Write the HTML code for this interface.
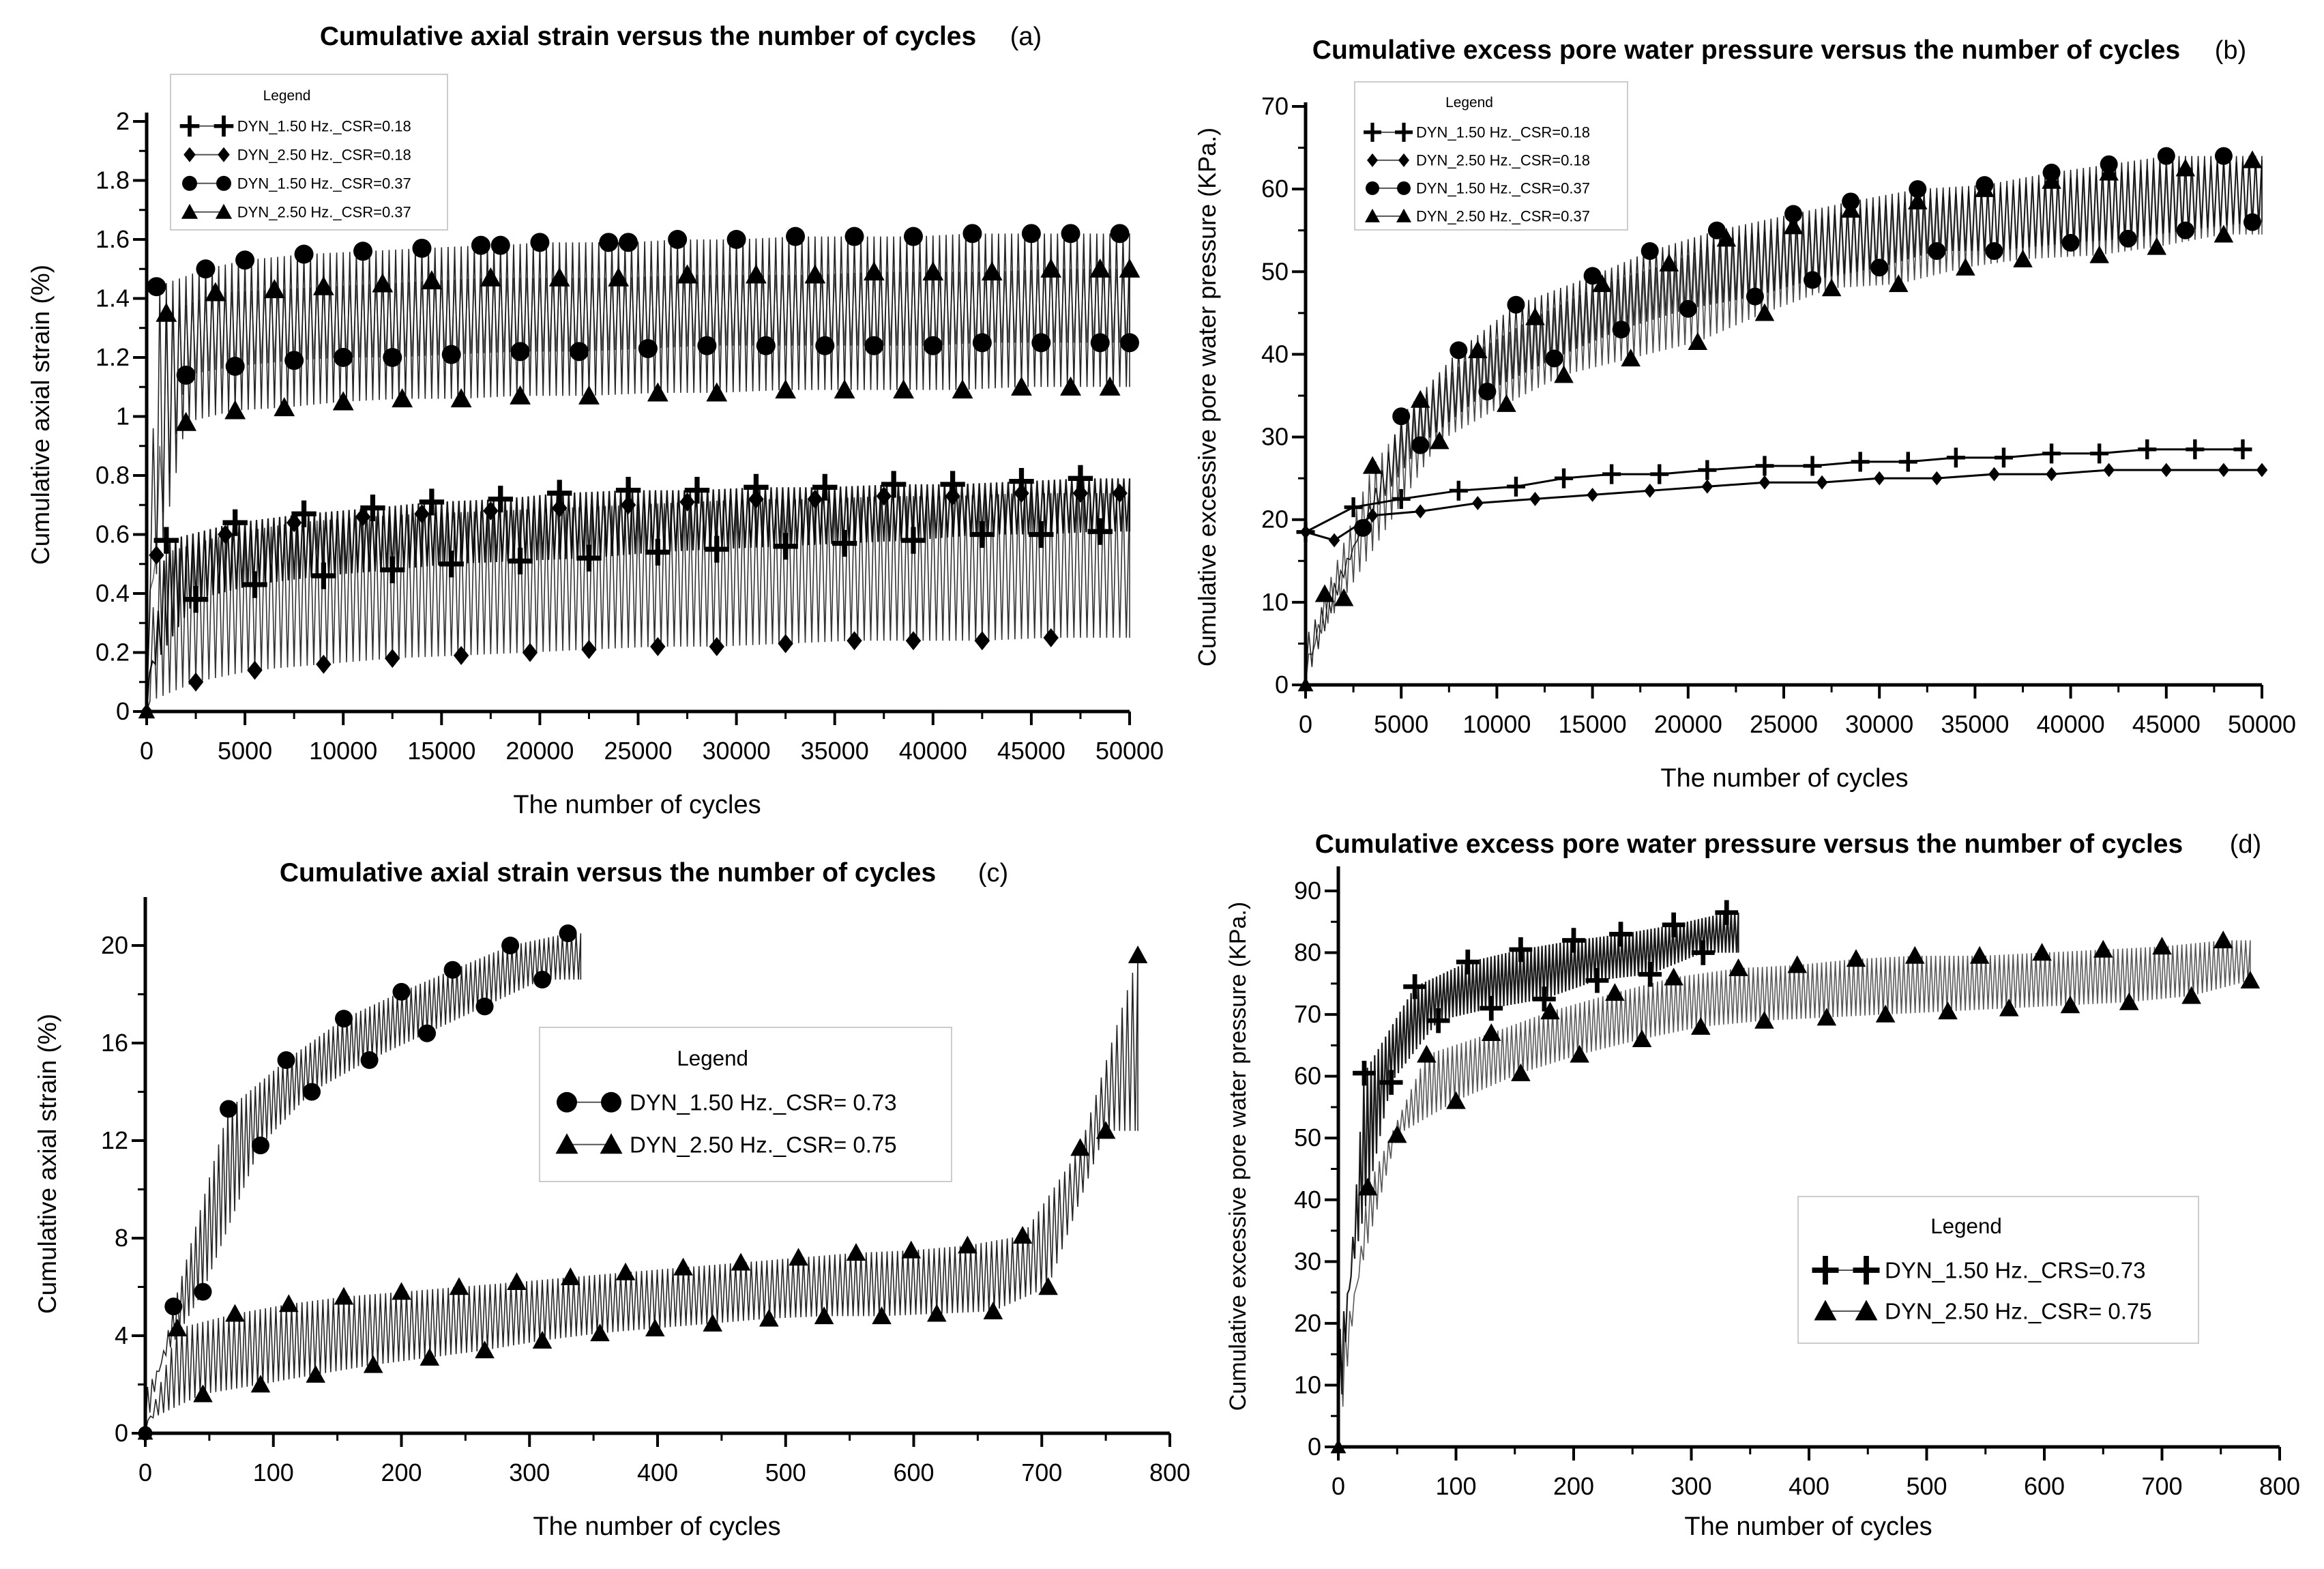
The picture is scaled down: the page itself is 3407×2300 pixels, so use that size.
<!DOCTYPE html>
<html><head><meta charset="utf-8"><style>
html,body{margin:0;padding:0;background:#fff;}
svg{display:block;font-family:"Liberation Sans",sans-serif;}
</style></head><body>
<svg id="fig" width="3407" height="2300" viewBox="0 0 3407 2300" xmlns="http://www.w3.org/2000/svg"></svg>
<script>
// ===== Panel (a) data: cumulative axial strain (%) vs cycles =====
const aPlusUpX=[1000,4500,8000,11500,14500,18000,21000,24500,28000,31000,34500,38000,41000,44500,47500];
const aPlusUpY=[0.58,0.64,0.67,0.69,0.71,0.72,0.74,0.75,0.75,0.76,0.76,0.77,0.77,0.78,0.79];
const aPlusLoX=[2500,5500,9000,12500,15500,19000,22500,26000,29000,32500,35500,39000,42500,45500,48500];
const aPlusLoY=[0.38,0.43,0.46,0.48,0.50,0.51,0.52,0.54,0.55,0.56,0.57,0.58,0.60,0.60,0.61];
const aDiaUpX=[500,4000,7500,11000,14000,17500,21000,24500,27500,31000,34000,37500,41000,44500,47500,49500];
const aDiaUpY=[0.53,0.60,0.64,0.66,0.67,0.68,0.69,0.70,0.71,0.72,0.72,0.73,0.73,0.74,0.74,0.74];
const aDiaLoX=[2500,5500,9000,12500,16000,19500,22500,26000,29000,32500,36000,39000,42500,46000];
const aDiaLoY=[0.10,0.14,0.16,0.18,0.19,0.20,0.21,0.22,0.22,0.23,0.24,0.24,0.24,0.25];
const aCirUpX=[500,3000,5000,8000,11000,14000,17000,18000,20000,23500,24500,27000,30000,33000,36000,39000,42000,45000,47000,49500];
const aCirUpY=[1.44,1.50,1.53,1.55,1.56,1.57,1.58,1.58,1.59,1.59,1.59,1.60,1.60,1.61,1.61,1.61,1.62,1.62,1.62,1.62];
const aCirLoX=[2000,4500,7500,10000,12500,15500,19000,22000,25500,28500,31500,34500,37000,40000,42500,45500,48500,50000];
const aCirLoY=[1.14,1.17,1.19,1.20,1.20,1.21,1.22,1.22,1.23,1.24,1.24,1.24,1.24,1.24,1.25,1.25,1.25,1.25];
const aTriUpX=[1000,3500,6500,9000,12000,14500,17500,21000,24000,27500,31000,34000,37000,40000,43000,46000,48500,50000];
const aTriUpY=[1.35,1.42,1.43,1.44,1.45,1.46,1.47,1.47,1.47,1.48,1.48,1.48,1.49,1.49,1.49,1.50,1.50,1.50];
const aTriLoX=[2000,4500,7000,10000,13000,16000,19000,22500,26000,29000,32500,35500,38500,41500,44500,47000,49000];
const aTriLoY=[0.98,1.02,1.03,1.05,1.06,1.06,1.07,1.07,1.08,1.08,1.09,1.09,1.09,1.09,1.10,1.10,1.10];
const aXTicks=[0,5000,10000,15000,20000,25000,30000,35000,40000,45000,50000];
const aYTicks=[0,0.2,0.4,0.6,0.8,1,1.2,1.4,1.6,1.8,2];
// ===== Panel (b) data: excess pore water pressure (kPa) =====
const bCirUpX=[5000,8000,11000,15000,18000,21500,25500,28500,32000,35500,39000,42000,45000,48000];
const bCirUpY=[32.5,40.5,46,49.5,52.5,55,57,58.5,60,60.5,62,63,64,64];
const bCirLoX=[3000,6000,9500,13000,16500,20000,23500,26500,30000,33000,36000,40000,43000,46000,49500];
const bCirLoY=[19,29,35.5,39.5,43,45.5,47,49,50.5,52.5,52.5,53.5,54,55,56];
const bTriUpX=[1000,3500,6000,9000,12000,15500,19000,22000,25500,28500,32000,35500,39000,42000,46000,49500];
const bTriUpY=[11,26.5,34.5,40.5,44.5,48.5,51,54,55.5,57.5,58.5,60,61,62,62.5,63.5];
const bTriLoX=[2000,7000,10500,13500,17000,20500,24000,27500,31000,34500,37500,41500,44500,48000];
const bTriLoY=[10.5,29.5,34,37.5,39.5,41.5,45,48,48.5,50.5,51.5,52,53,54.5];
const bPlusX=[0,2500,5000,8000,11000,13500,16000,18500,21000,24000,26500,29000,31500,34000,36500,39000,41500,44000,46500,49000];
const bPlusY=[18.5,21.5,22.5,23.5,24,25,25.5,25.5,26,26.5,26.5,27,27,27.5,27.5,28,28,28.5,28.5,28.5];
const bDiaX=[0,1500,3500,6000,9000,12000,15000,18000,21000,24000,27000,30000,33000,36000,39000,42000,45000,48000,50000];
const bDiaY=[18.5,17.5,20.5,21,22,22.5,23,23.5,24,24.5,24.5,25,25,25.5,25.5,26,26,26,26];
const bXTicks=[0,5000,10000,15000,20000,25000,30000,35000,40000,45000,50000];
const bYTicks=[0,10,20,30,40,50,60,70];
// ===== Panel (c) data =====
const cCirUpX=[22,65,110,155,200,240,285,330];
const cCirUpY=[5.2,13.3,15.3,17,18.1,19,20,20.5];
const cCirLoX=[45,90,130,175,220,265,310];
const cCirLoY=[5.8,11.8,14,15.3,16.4,17.5,18.6];
const cTriUpX=[25,70,112,155,200,245,290,332,375,420,465,510,555,598,642,685,730,775];
const cTriUpY=[4.3,4.9,5.3,5.6,5.8,6.0,6.2,6.4,6.6,6.8,7.0,7.2,7.4,7.5,7.7,8.1,11.7,19.6];
const cTriLoX=[45,90,133,178,222,265,310,355,398,443,487,530,575,618,662,705,750];
const cTriLoY=[1.6,2.0,2.4,2.8,3.1,3.4,3.8,4.1,4.3,4.5,4.7,4.8,4.8,4.9,5.0,6.0,12.4];
const cXTicks=[0,100,200,300,400,500,600,700,800];
const cYTicks=[0,4,8,12,16,20];
// ===== Panel (d) data =====
const dPlusUpX=[22,65,110,155,200,240,285,330];
const dPlusUpY=[60.5,74.5,78.5,80.5,82,83,84.5,86.5];
const dPlusLoX=[45,85,130,175,220,265,310];
const dPlusLoY=[59,69,71,72.5,75.5,76.5,80];
const dTriUpX=[25,75,130,180,235,285,340,390,440,490,545,598,650,700,752];
const dTriUpY=[42,63.5,67,70.5,73.5,76,77.5,78,79,79.5,79.5,80,80.5,81,82];
const dTriLoX=[50,100,155,205,258,308,362,415,465,518,570,622,672,725,775];
const dTriLoY=[50.5,56,60.5,63.5,66,68,69,69.5,70,70.5,71,71.5,72,73,75.5];
const dXTicks=[0,100,200,300,400,500,600,700,800];
const dYTicks=[0,10,20,30,40,50,60,70,80,90];

const NS="http://www.w3.org/2000/svg";
const fig=document.getElementById('fig');
function el(tag,attrs,parent,text){const e=document.createElementNS(NS,tag);for(const k in attrs)e.setAttribute(k,attrs[k]);if(text!==undefined)e.textContent=text;(parent||fig).appendChild(e);return e;}
function interp(xs,ys,x){if(x<=xs[0])return ys[0];for(let i=1;i<xs.length;i++){if(x<=xs[i]){const t=(x-xs[i-1])/(xs[i]-xs[i-1]);return ys[i-1]+t*(ys[i]-ys[i-1]);}}return ys[ys.length-1];}

function marker(g,type,cx,cy,s){
  let m;
  if(type==='circle'){m=el('circle',{cx:cx,cy:cy,r:s*0.5,fill:'#000'},g);}
  else if(type==='tri'){m=el('polygon',{points:`${cx},${cy-s*0.55} ${cx-s*0.55},${cy+s*0.45} ${cx+s*0.55},${cy+s*0.45}`,fill:'#000'},g);}
  else if(type==='diamond'){m=el('polygon',{points:`${cx},${cy-s*0.5} ${cx+s*0.4},${cy} ${cx},${cy+s*0.5} ${cx-s*0.4},${cy}`,fill:'#000'},g);}
  else {m=el('path',{d:`M${cx-s*0.65},${cy}H${cx+s*0.65}M${cx},${cy-s*0.7}V${cy+s*0.7}`,stroke:'#000','stroke-width':s*0.26,fill:'none'},g);}
  
  
}

function panel(P){
  const g=el('g',{});
  
  
  const sx=v=>P.x0+(v-P.xmin)/(P.xmax-P.xmin)*(P.x1-P.x0);
  const sy=v=>P.y0-(v-P.ymin)/(P.ymax-P.ymin)*(P.y0-P.y1);
  P.bands.forEach(b=>{
    const ux=b.eUx||b.upX, uy=b.eUy||b.upY, lx=b.eLx||b.loX, ly=b.eLy||b.loY;
    const xe=b.end;
    let d=`M${sx(0)},${sy(0)}`;
    for(let i=0;i<=b.n;i++){
      const xa=(i/b.n)*xe, xb=Math.min(xa+xe/b.n/2,xe);
      const top=xa<ux[0]? (xa/ux[0])*uy[0] : interp(ux,uy,xa);
      const lowStart=ly[0]*0.3;
      const bot=xb<lx[0]? lowStart+(xb/lx[0])*(ly[0]-lowStart) : interp(lx,ly,xb);
      d+=`L${sx(xa)},${sy(Math.max(top,0))}L${sx(xb)},${sy(Math.max(bot,0))}`;
    }
    const p=el('path',{d:d,fill:'none',stroke:'#000','stroke-width':b.w||1.6,'stroke-opacity':b.op||0.9},g);
    
    
  });
  (P.lines||[]).forEach(l=>{
    const pts=l.x.map((v,i)=>`${sx(v)},${sy(l.y[i])}`).join(' ');
    const p=el('polyline',{points:pts,fill:'none',stroke:'#000','stroke-width':3},g);
    
    
    l.x.forEach((v,i)=>marker(g,l.type,sx(v),sy(l.y[i]),P.ms*0.8));
  });
  P.bands.forEach(b=>{
    b.upX.forEach((v,i)=>marker(g,b.type,sx(v),sy(b.upY[i]),P.ms));
    b.loX.forEach((v,i)=>marker(g,b.type,sx(v),sy(b.loY[i]),P.ms));
  });
  P.origin.forEach(t=>marker(g,t,sx(0),sy(0),P.ms*0.8));
  const ax=el('path',{d:`M${P.x0},${P.ytop}V${P.y0}H${P.x1}`,stroke:'#000','stroke-width':5,fill:'none'},g);
  
  
  P.xt.forEach((v,i)=>{
    const X=sx(v);
    el('line',{x1:X,x2:X,y1:P.y0,y2:P.y0+20,stroke:'#000','stroke-width':4},g);
    if(i<P.xt.length-1){const Xm=sx(v+(P.xt[1]-P.xt[0])/2);el('line',{x1:Xm,x2:Xm,y1:P.y0,y2:P.y0+11,stroke:'#000','stroke-width':3},g);}
    const t=el('text',{x:X,y:P.y0+70,'text-anchor':'middle','font-size':P.tfs},g,String(v));
    
    
  });
  P.yt.forEach((v,i)=>{
    const Y=sy(v);
    el('line',{x1:P.x0-20,x2:P.x0,y1:Y,y2:Y,stroke:'#000','stroke-width':4},g);
    const step=P.yt[1]-P.yt[0];
    for(let k=1;k<P.ym;k++){const Ym=sy(v+step*k/P.ym);if(Ym>P.ytop)el('line',{x1:P.x0-11,x2:P.x0,y1:Ym,y2:Ym,stroke:'#000','stroke-width':3},g);}
    const t=el('text',{x:P.x0-25,y:Y+12,'text-anchor':'end','font-size':P.tfs},g,String(v));
    
    
  });
  let t=el('text',{x:P.tx,y:P.ty,'text-anchor':'middle','font-size':39,'font-weight':'bold'},g,P.title);
  
  
  t=el('text',{x:P.lx,y:P.ty,'text-anchor':'middle','font-size':38},g,P.label);
  
  
  t=el('text',{x:P.xtx,y:P.xty,'text-anchor':'middle','font-size':38},g,'The number of cycles');
  
  
  t=el('text',{x:P.ytx,y:P.yty,'text-anchor':'middle','font-size':P.ytfs,transform:`rotate(-90 ${P.ytx} ${P.yty})`},g,P.ytitle);
  
  
  const L=P.leg;
  const lg=el('g',{},g);
  
  
  el('rect',{x:L.x,y:L.y,width:L.w,height:L.h,fill:'#fff',stroke:'#ccc','stroke-width':2},lg);
  el('text',{x:L.x+L.w*0.42,y:L.y+L.lh*0.9,'text-anchor':'middle','font-size':L.fs*0.95},lg,'Legend');
  L.items.forEach((it,i)=>{
    const Y=L.y+L.lh*(1.9+i)+L.off;
    const e=el('g',{},lg);
    
    
    el('line',{x1:L.x+L.m1,x2:L.x+L.m2,y1:Y,y2:Y,stroke:'#555','stroke-width':2},e);
    marker(e,it[0],L.x+L.m1,Y,L.ms);marker(e,it[0],L.x+L.m2,Y,L.ms);
    el('text',{x:L.x+L.m2+L.ms*0.9,y:Y+L.fs*0.35,'font-size':L.fs},e,it[1]);
  });
}

panel({name:'panel-a-axial-strain',x0:215,x1:1656,y0:1043,y1:178,ytop:165,xmin:0,xmax:50000,ymin:0,ymax:2,ms:28,tfs:36,ym:2,
  xt:aXTicks,yt:aYTicks,origin:['tri','diamond'],
  bands:[
    {id:'csr037-1p5hz',type:'circle',upX:aCirUpX,upY:aCirUpY,loX:aCirLoX,loY:aCirLoY,eLx:aTriLoX,eLy:aTriLoY,n:150,end:50000,op:0.85},
    {id:'csr037-2p5hz',type:'tri',upX:aTriUpX,upY:aTriUpY,loX:aTriLoX,loY:aTriLoY,eLx:aCirLoX,eLy:aCirLoY,n:150,end:50000,op:0.6},
    {id:'csr018-1p5hz',type:'plus',upX:aPlusUpX,upY:aPlusUpY,loX:aPlusLoX,loY:aPlusLoY,n:170,end:50000,w:2.2},
    {id:'csr018-2p5hz',type:'diamond',upX:aDiaUpX,upY:aDiaUpY,loX:aDiaLoX,loY:aDiaLoY,n:150,end:50000,op:0.8}
  ],
  title:'Cumulative axial strain versus the number of cycles',tx:950,ty:66,label:'(a)',lx:1504,
  xtx:934,xty:1192,ytx:72,yty:608,ytfs:37,ytitle:'Cumulative axial strain (%)',
  leg:{x:250,y:109,w:406,h:228,lh:42,off:-4,fs:22,ms:22,m1:28,m2:78,items:[['plus','DYN_1.50 Hz._CSR=0.18'],['diamond','DYN_2.50 Hz._CSR=0.18'],['circle','DYN_1.50 Hz._CSR=0.37'],['tri','DYN_2.50 Hz._CSR=0.37']]}});

panel({name:'panel-b-pore-pressure',x0:1914,x1:3316,y0:1004,y1:156,ytop:150,xmin:0,xmax:50000,ymin:0,ymax:70,ms:26,tfs:36,ym:2,
  xt:bXTicks,yt:bYTicks,origin:['tri'],
  bands:[
    {id:'csr037-1p5hz',type:'circle',upX:bCirUpX,upY:bCirUpY,loX:bCirLoX,loY:bCirLoY,n:150,end:50000,op:0.85},
    {id:'csr037-2p5hz',type:'tri',upX:bTriUpX,upY:bTriUpY,loX:bTriLoX,loY:bTriLoY,n:150,end:50000,op:0.7}
  ],
  lines:[{id:'csr018-1p5hz',type:'plus',x:bPlusX,y:bPlusY},{id:'csr018-2p5hz',type:'diamond',x:bDiaX,y:bDiaY}],
  title:'Cumulative excess pore water pressure versus the number of cycles',tx:2560,ty:86,label:'(b)',lx:3270,
  xtx:2616,xty:1153,ytx:1782,yty:582,ytfs:36,ytitle:'Cumulative excessive pore water pressure (KPa.)',
  leg:{x:1986,y:120,w:400,h:217,lh:41,off:-4,fs:22,ms:20,m1:26,m2:72,items:[['plus','DYN_1.50 Hz._CSR=0.18'],['diamond','DYN_2.50 Hz._CSR=0.18'],['circle','DYN_1.50 Hz._CSR=0.37'],['tri','DYN_2.50 Hz._CSR=0.37']]}});

panel({name:'panel-c-axial-strain',x0:213,x1:1715,y0:2101,y1:1386,ytop:1315,xmin:0,xmax:800,ymin:0,ymax:20,ms:26,tfs:36,ym:2,
  xt:cXTicks,yt:cYTicks,origin:['circle','tri'],
  bands:[
    {id:'csr073-1p5hz',type:'circle',upX:cCirUpX,upY:cCirUpY,loX:cCirLoX,loY:cCirLoY,n:95,end:340,op:0.85},
    {id:'csr075-2p5hz',type:'tri',upX:cTriUpX,upY:cTriUpY,loX:cTriLoX,loY:cTriLoY,n:190,end:775,op:0.85}
  ],
  title:'Cumulative axial strain versus the number of cycles',tx:891,ty:1292,label:'(c)',lx:1456,
  xtx:963,xty:2250,ytx:82,yty:1706,ytfs:37,ytitle:'Cumulative axial strain (%)',
  leg:{x:791,y:1506,w:604,h:226,lh:62,off:-8,fs:33,ms:30,m1:40,m2:105,items:[['circle','DYN_1.50 Hz._CSR= 0.73'],['tri','DYN_2.50 Hz._CSR= 0.75']]}});

panel({name:'panel-d-pore-pressure',x0:1962,x1:3342,y0:2121,y1:1306,ytop:1270,xmin:0,xmax:800,ymin:0,ymax:90,ms:26,tfs:36,ym:2,
  xt:dXTicks,yt:dYTicks,origin:['tri'],
  bands:[
    {id:'csr073-1p5hz',type:'plus',upX:dPlusUpX,upY:dPlusUpY,loX:dPlusLoX,loY:dPlusLoY,n:110,end:340,w:2.2},
    {id:'csr075-2p5hz',type:'tri',upX:dTriUpX,upY:dTriUpY,loX:dTriLoX,loY:dTriLoY,n:200,end:775,op:0.65}
  ],
  title:'Cumulative excess pore water pressure versus the number of cycles',tx:2564,ty:1250,label:'(d)',lx:3292,
  xtx:2651,xty:2250,ytx:1826,yty:1695,ytfs:34,ytitle:'Cumulative excessive pore water pressure (KPa.)',
  leg:{x:2636,y:1754,w:587,h:215,lh:60,off:-6,fs:33,ms:30,m1:40,m2:100,items:[['plus','DYN_1.50 Hz._CRS=0.73'],['tri','DYN_2.50 Hz._CSR= 0.75']]}});
</script>
</body></html>
